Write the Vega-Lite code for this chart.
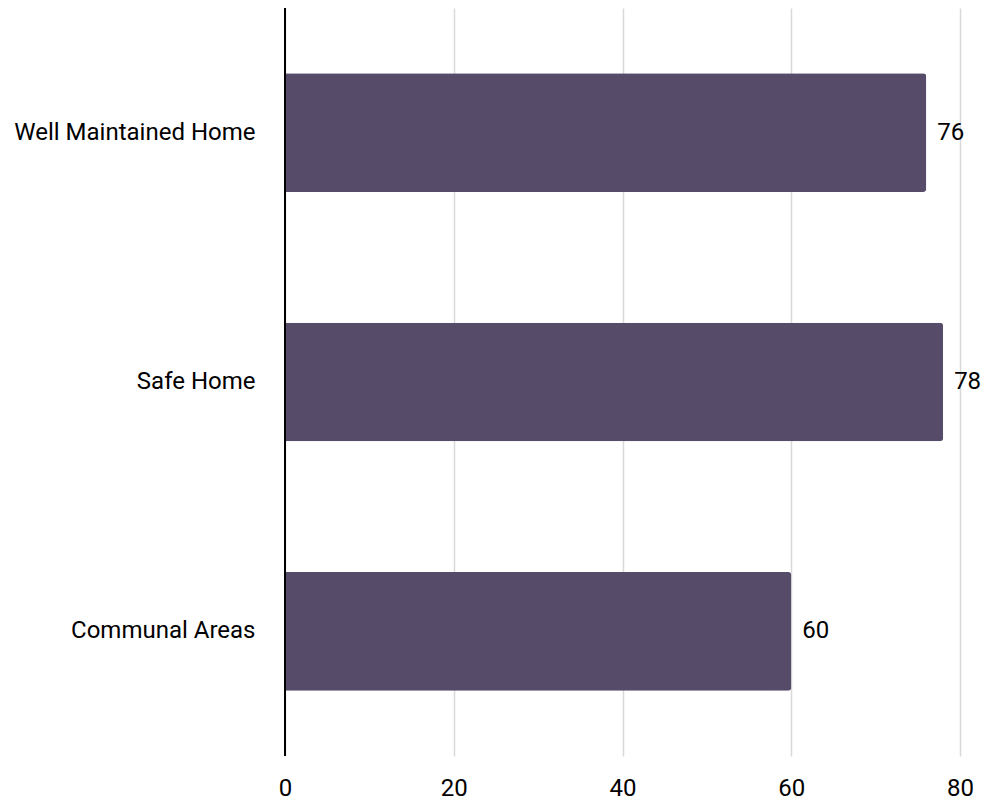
{
  "$schema": "https://vega.github.io/schema/vega-lite/v6.json",
  "autosize": {"type": "none"},
  "padding": {"left": 285, "top": 8, "right": 36, "bottom": 43},
  "width": 675,
  "height": 748,
  "background": "white",
  "config": {"view": {"stroke": null}, "font": "Roboto"},
  "data": {"values": [
    {"category": "Well Maintained Home", "value": 76},
    {"category": "Safe Home", "value": 78},
    {"category": "Communal Areas", "value": 60}
  ]},
  "encoding": {
    "y": {"field": "category", "type": "nominal", "sort": null,
      "scale": {"paddingInner": 0.524, "paddingOuter": 0.262},
      "axis": {"title": null, "domain": false, "ticks": false, "labelPadding": 30, "labelFontSize": 24, "labelColor": "#000000", "labelFont": "Roboto", "grid": false, "labelLimit": 400}},
    "x": {"field": "value", "type": "quantitative",
      "scale": {"domain": [0, 80], "nice": false},
      "axis": {"title": null, "values": [0, 20, 40, 60, 80], "domain": false, "ticks": false, "labelPadding": 20, "labelFontSize": 24, "labelColor": "#000000", "labelFont": "Roboto", "gridColor": "#d9d9d9", "gridWidth": 1.5, "labelFlush": false}}
  },
  "layer": [
    {"mark": {"type": "bar", "color": "#574b6a", "cornerRadiusEnd": 3}},
    {"mark": {"type": "text", "align": "left", "baseline": "middle", "dx": 11, "fontSize": 24, "font": "Roboto", "color": "#000000"},
      "encoding": {"text": {"field": "value", "type": "quantitative"}}},
    {"mark": {"type": "rule", "color": "#000000", "strokeWidth": 2},
      "data": {"values": [{"x": 0}]},
      "encoding": {"x": {"field": "x", "type": "quantitative"}, "y": {"value": 0}, "y2": {"value": 748}}}
  ]
}
